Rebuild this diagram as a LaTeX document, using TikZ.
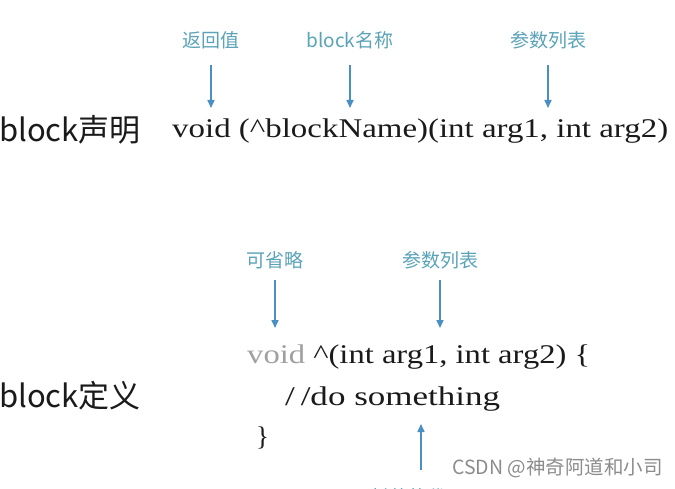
\documentclass[tikz,border=0pt]{standalone}
\usepackage{fontspec}
\newfontfamily\cjk{Noto Sans CJK SC}
\newfontfamily\codefont{Liberation Serif}
\usetikzlibrary{arrows.meta}
\definecolor{lbl}{HTML}{5AA3B8}
\definecolor{arr}{HTML}{4A8FC2}
\definecolor{ink}{HTML}{1A1A1A}
\definecolor{soft}{HTML}{A0A0A0}
\definecolor{wm}{HTML}{8C8C8C}
\begin{document}
\begin{tikzpicture}[x=1pt,y=-1pt,
  lab/.style={font=\cjk\fontsize{19}{20}\selectfont, text=lbl, inner sep=0},
  pointer/.style={draw=arr, line width=1.6pt, -{Triangle[length=8pt,width=7pt]}},
  code/.style={font=\codefont\fontsize{27}{30}\selectfont, text=ink, inner sep=0, anchor=base west},
  heading/.style={font=\cjk\fontsize{31}{32}\selectfont, text=ink, inner sep=0, anchor=base west},
  wmark/.style={font=\cjk\fontsize{19.5}{20}\selectfont, text=wm, inner sep=0, anchor=base west}]
\useasboundingbox (0,0) rectangle (675,489);
\clip (0,0) rectangle (675,489);
\fill[white] (0,0) rectangle (675,489);

% declaration
\node[lab] (l1) at (211,40) {返回值};
\node[lab] (l2) at (350,40) {block名称};
\node[lab] (l3) at (548,40) {参数列表};
\coordinate (s1) at (211,65); \coordinate (e1) at (211,108);
\coordinate (s2) at (350,65); \coordinate (e2) at (350,108);
\coordinate (s3) at (548,65); \coordinate (e3) at (548,108);
\draw[pointer] (s1) -- (e1);
\draw[pointer] (s2) -- (e2);
\draw[pointer] (s3) -- (e3);
\node[heading] (h1) at (-1,142) {block声明};
\node[code] (c1) at (172,138) {\resizebox{496pt}{\height}{void (\^{}blockName)(int arg1, int arg2)}};

% definition
\node[lab] (l4) at (275,260) {可省略};
\node[lab] (l5) at (440,260) {参数列表};
\coordinate (s4) at (275,280); \coordinate (e4) at (275,328);
\coordinate (s5) at (440,280); \coordinate (e5) at (440,328);
\draw[pointer] (s4) -- (e4);
\draw[pointer] (s5) -- (e5);
\node[heading] (h2) at (-1,407) {block定义};
\node[code] (c2) at (247,363) {\resizebox{343pt}{\height}{\textcolor{soft}{void} \^{}(int arg1, int arg2) \{}};
\node[code] (c3) at (285,405) {\resizebox{215pt}{\height}{/\,/do something}};
\node[code] (c4) at (256,445) {\}};

\coordinate (s6) at (421,470); \coordinate (e6) at (421,424);
\draw[pointer] (s6) -- (e6);
\node[lab] (l6) at (418,497) {封装的代码};
\node[wmark] (wm) at (452,474) {CSDN @神奇阿道和小司};
\end{tikzpicture}
\end{document}
